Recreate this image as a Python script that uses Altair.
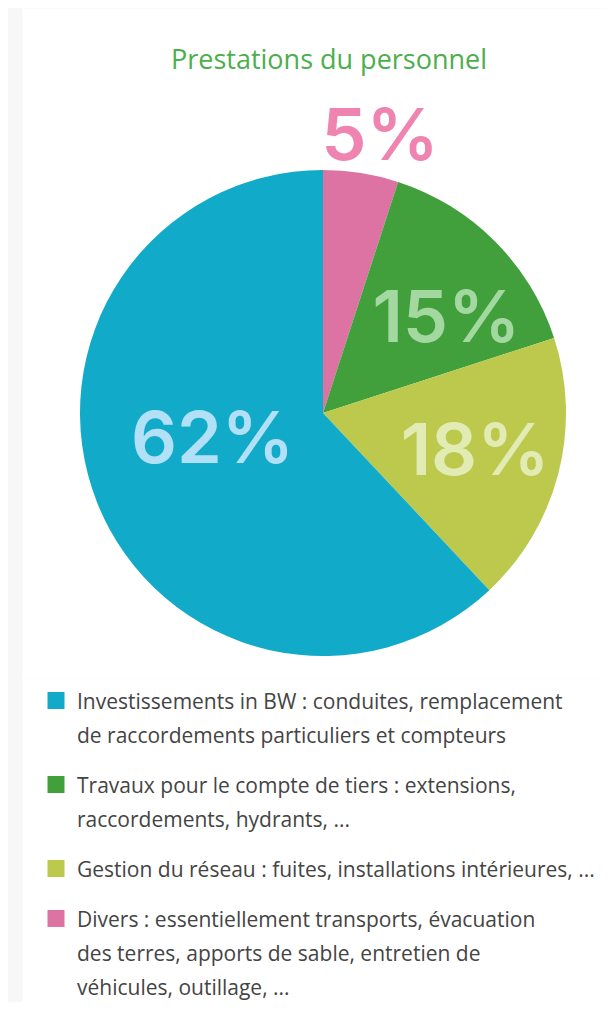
import altair as alt
import pandas as pd

# ---- data -------------------------------------------------------------
TITLE = "Prestations du personnel"
CATEGORIES = ["Divers", "Travaux pour le compte de tiers", "Gestion du réseau", "Investissements in BW"]
VALUES = [5, 15, 18, 62]
LABELS = ["5%", "15%", "18%", "62%"]
SLICE_COLORS = ["#dd73a3", "#42a03c", "#bcc94c", "#11aac8"]
LABEL_COLORS = ["#ef84b1", "#a3d8a0", "#e2ebb4", "#b2e0f6"]

LEGEND_CATS = ["Investissements in BW", "Travaux pour le compte de tiers", "Gestion du réseau", "Divers"]
LEGEND_LINES = [
    ["Investissements in BW : conduites, remplacement", "de raccordements particuliers et compteurs"],
    ["Travaux pour le compte de tiers : extensions,", "raccordements, hydrants, ..."],
    ["Gestion du réseau : fuites, installations intérieures, ..."],
    ["Divers : essentiellement transports, évacuation", "des terres, apports de sable, entretien de", "véhicules, outillage, ..."],
]

# ---- layout constants -------------------------------------------------
W = 584
PIE_H = 670
LEG_H = 324
CX, CY, R = 301, 405, 243
ITEM_GAP = 0.47  # extra gap between legend items, in line units

pie_df = pd.DataFrame({"cat": CATEGORIES, "value": VALUES, "label": LABELS,
                       "idx": list(range(len(CATEGORIES)))})

color_scale = alt.Scale(domain=CATEGORIES, range=SLICE_COLORS)

base = alt.Chart(pie_df)

arcs = base.mark_arc(radius=R).encode(
    theta=alt.Theta("value:Q", stack=True),
    order=alt.Order("idx:Q"),
    color=alt.Color("cat:N", scale=color_scale, legend=None),
    x=alt.value(CX),
    y=alt.value(CY),
)

mid_base = base.transform_window(
    cum="sum(value)", sort=[alt.SortField("idx")]
).transform_calculate(mid="datum.cum - datum.value / 2")

# (radius, dx, dy) for each label, placed at the middle angle of its slice
label_place = {
    "Divers": (256, 17, 0),
    "Travaux pour le compte de tiers": (142, 23, 29),
    "Gestion du réseau": (157, 0, 23),
    "Investissements in BW": (121, 2, 5),
}

label_layers = []
for cat, col in zip(CATEGORIES, LABEL_COLORS):
    r, dx, dy = label_place[cat]
    label_layers.append(
        mid_base.transform_filter(alt.datum.cat == cat).mark_text(
            radius=r, dx=dx, dy=dy, font="Inter", fontSize=72, fontWeight=600,
            color=col, align="center", baseline="alphabetic",
        ).encode(
            theta=alt.Theta("mid:Q"),
            text="label:N",
            x=alt.value(CX),
            y=alt.value(CY),
        )
    )

title = alt.Chart(pd.DataFrame({"t": [TITLE]})).mark_text(
    font="Open Sans", fontSize=27, color="#4cae4c", align="center", baseline="alphabetic"
).encode(text="t:N", x=alt.value(307), y=alt.value(61))

pie = alt.layer(arcs, *label_layers, title).properties(width=W, height=PIE_H)

# ---- legend -----------------------------------------------------------
rows = []
sq_rows = []
slot = 0.0
for cat, lines in zip(LEGEND_CATS, LEGEND_LINES):
    sq_rows.append({"cat": cat, "slot": slot})
    for j, line in enumerate(lines):
        rows.append({"cat": cat, "slot": slot + j, "text": line})
    slot += len(lines) + ITEM_GAP
max_slot = max(r["slot"] for r in rows)

leg_df = pd.DataFrame(rows)
sq_df = pd.DataFrame(sq_rows)
yscale = alt.Scale(domain=[0, max_slot], range=[31, 317])

leg_text = alt.Chart(leg_df).mark_text(
    font="Open Sans", fontSize=21, color="#444444", align="left", baseline="alphabetic"
).encode(
    y=alt.Y("slot:Q", scale=yscale, axis=None),
    x=alt.value(55),
    text="text:N",
)

leg_sq = alt.Chart(sq_df).mark_square(size=289, opacity=1, yOffset=-8.5).encode(
    y=alt.Y("slot:Q", scale=yscale, axis=None),
    x=alt.value(34),
    color=alt.Color("cat:N", scale=color_scale, legend=None),
)

legend = alt.layer(leg_sq, leg_text).properties(width=W, height=LEG_H)

chart = alt.vconcat(pie, legend, spacing=0).configure(
    background="#f7f7f7",
    padding={"left": 14, "top": 0, "right": 0, "bottom": 0},
).configure_view(fill="white", strokeOpacity=0)

chart.save("out.html", embed_options={"renderer": "svg", "actions": False})
